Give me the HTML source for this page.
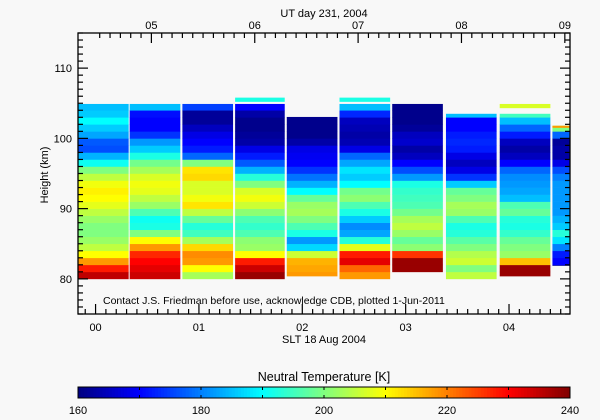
<!DOCTYPE html>
<html><head><meta charset="utf-8"><style>
body{margin:0;background:#f8f8f8;}
svg{display:block;font-family:"Liberation Sans",sans-serif;}
</style></head><body>
<svg id="chart" width="600" height="420" viewBox="0 0 600 420" xmlns="http://www.w3.org/2000/svg">
<rect x="0" y="0" width="600" height="420" fill="#f8f8f8"/>
<g id="cols"></g>
<g id="axes"></g>
<text x="324" y="17" font-size="11" text-anchor="middle">UT day 231, 2004</text>
<text x="324" y="343" font-size="11" text-anchor="middle">SLT 18 Aug 2004</text>
<text transform="translate(48,175) rotate(-90)" font-size="11" text-anchor="middle">Height (km)</text>
<text x="103" y="304" font-size="10.5">Contact J.S. Friedman before use, acknowledge CDB, plotted 1-Jun-2011</text>
<text x="324" y="381" font-size="12.5" text-anchor="middle">Neutral Temperature [K]</text>
<g id="cbar"></g>
</svg>
<script>
// ---- data ----
const colStartHour = [-0.17, 0.33, 0.84, 1.35, 1.85, 2.36, 2.87, 3.39, 3.91, 4.42];
const colEndHour   = [0.32, 0.82, 1.33, 1.83, 2.34, 2.85, 3.36, 3.88, 4.40, 4.59];
const colBottomKm = [80.0, 80.0, 80.0, 80.0, 80.4, 80.0, 81.0, 80.0, 80.4, 81.9];
const colTopKm    = [104.9, 104.9, 104.9, 104.9, 103.05, 104.9, 104.9, 103.5, 103.5, 101.8];
const prof0 = [235,228,218,210,205,202,200,200,202,205,208,210,211,209,205,200,191,184,176,177,183,186,190,186,185];
const prof1 = [234,232,230,227,218,210,200,192,191,196,202,205,208,209,207,203,199,192,186,182,174,170,170,171,185];
const prof2 = [203,210,218,219,213,203,195,193,198,205,212,209,207,207,213,212,200,178,172,170,168,165,162,162,175];
const prof3 = [238,234,228,210,202,201,196,194,196,201,206,209,207,200,193,184,177,172,168,163,162,161,161,163,170];
const prof4 = [218,217,216,206,187,182,192,196,200,203,202,198,190,184,179,174,170,169,168,163,161,161,161,161];
const prof5 = [218,222,232,228,208,193,183,181,186,192,196,201,199,190,186,188,183,178,168,164,163,164,165,173,185];
const prof6 = [238,238,226,201,198,202,205,203,199,196,195,194,192,182,176,170,165,163,166,165,162,161,161,161,161];
const prof7 = [205,200,206,204,200,197,193,192,196,202,203,200,198,186,174,168,165,168,172,173,172,170,170,185];
const prof8 = [238,238,215,202,200,198,194,192,193,198,196,185,183,182,181,178,170,165,163,165,172,178,185,195];
const prof9 = [162,170,172,180,188,193,186,184,182,182,182,182,182,180,176,168,163,163,162,178,200,218];
const profiles = [prof0,prof1,prof2,prof3,prof4,prof5,prof6,prof7,prof8,prof9];
// floating strips above columns
const stripCol = [3, 5, 8, 9];
const stripBottomKm = [105.2, 105.2, 104.3, 101.5];
const stripTopKm = [105.8, 105.8, 104.9, 101.8];
const stripTemp = [192, 192, 207, 218];
const yTicks = [80, 90, 100, 110];
const xTickLabels = ["00","01","02","03","04"];
const utTickLabels = ["05","06","07","08","09"];
const cbarTicks = [160,180,200,220,240];

// ---- scales ----
const X0=78, X1=570, Y0=33, Y1=314;
const H0=-0.17, H1=4.59, K0=75, K1=115;
const xs = h => X0 + (h-H0)/(H1-H0)*(X1-X0);
const ys = k => Y0 + (K1-k)/(K1-K0)*(Y1-Y0);
const T0=160, T1=240;
function jet(v){
  let t=Math.max(0,Math.min(1,(v-T0)/(T1-T0)));
  const c=x=>Math.round(255*Math.max(0,Math.min(1,x)));
  return `rgb(${c(1.5-Math.abs(4*t-3))},${c(1.5-Math.abs(4*t-2))},${c(1.5-Math.abs(4*t-1))})`;
}
const NS="http://www.w3.org/2000/svg";
function mk(tag,attrs,parent){const e=document.createElementNS(NS,tag);for(const k in attrs)e.setAttribute(k,attrs[k]);parent.appendChild(e);return e;}

const cols=document.getElementById('cols');
profiles.forEach((p,i)=>{
  const xa=xs(colStartHour[i]), xb=xs(colEndHour[i]);
  const base=Math.floor(colBottomKm[i]);
  p.forEach((v,j)=>{
    const lo=Math.max(base+j,colBottomKm[i]), hi=Math.min(base+j+1,colTopKm[i]);
    if(hi<=lo) return;
    const r=mk('rect',{x:xa,y:ys(hi),width:xb-xa,height:ys(lo)-ys(hi)+0.3,fill:jet(v)},cols);
    
    
  });
});
stripCol.forEach((c,i)=>{
  const xa=xs(colStartHour[c]), xb=xs(colEndHour[c]);
  const r=mk('rect',{x:xa,y:ys(stripTopKm[i]),width:xb-xa,height:ys(stripBottomKm[i])-ys(stripTopKm[i]),fill:jet(stripTemp[i])},cols);
  
  
});

// ---- axes ----
const ax=document.getElementById('axes');
mk('rect',{x:X0,y:Y0,width:X1-X0,height:Y1-Y0,fill:'none',stroke:'#000','stroke-width':1.3},ax);
for(let k=K0;k<=K1;k++){
  const major=k%10===0, L=major?10:5, y=ys(k);
  mk('line',{x1:X0,y1:y,x2:X0+L,y2:y,stroke:'#000','stroke-width':1.2},ax);
  mk('line',{x1:X1,y1:y,x2:X1-L,y2:y,stroke:'#000','stroke-width':1.2},ax);
}
yTicks.forEach(k=>{
  const t=mk('text',{x:X0-6,y:ys(k)+4,'font-size':11,'text-anchor':'end'},ax);
  t.textContent=k;
  
  
});
// bottom ticks (SLT)
for(let m=-1;m<=45;m++){
  const h=m/10; if(h<H0||h>H1) continue;
  const x=xs(h), L=m%10===0?10:5;
  mk('line',{x1:x,y1:Y1,x2:x,y2:Y1-L,stroke:'#000','stroke-width':1.2},ax);
}
xTickLabels.forEach((s,i)=>{
  const t=mk('text',{x:xs(i),y:331,'font-size':11,'text-anchor':'middle'},ax);
  t.textContent=s;
  
  
});
// top ticks (UT), offset 0.54h relative to SLT
const UTOFF=5-0.54;
for(let m=-5;m<=45;m++){
  const h=m/10+0.54; if(h<H0||h>H1+0.01) continue;
  const x=xs(h), L=m%10===0?10:5;
  mk('line',{x1:x,y1:Y0,x2:x,y2:Y0+L,stroke:'#000','stroke-width':1.2},ax);
}
utTickLabels.forEach((s,i)=>{
  const t=mk('text',{x:Math.min(xs(i+0.54),X1-2),y:29,'font-size':11,'text-anchor':'middle'},ax);
  t.textContent=s;
  
  
});

// ---- colorbar ----
const cb=document.getElementById('cbar');
const CY0=387, CY1=398;
const cx = v => X0 + (v-T0)/(T1-T0)*(X1-X0);
for(let v=T0; v<T1; v+=0.5){
  mk('rect',{x:cx(v),y:CY0,width:cx(v+0.5)-cx(v)+0.4,height:CY1-CY0,fill:jet(v+0.25)},cb);
}
mk('rect',{x:X0,y:CY0,width:X1-X0,height:CY1-CY0,fill:'none',stroke:'#000','stroke-width':1},cb);
for(let v=T0+10; v<T1; v+=10){
  mk('line',{x1:cx(v),y1:CY0,x2:cx(v),y2:CY0+3,stroke:'#000'},cb);
  mk('line',{x1:cx(v),y1:CY1,x2:cx(v),y2:CY1-3,stroke:'#000'},cb);
}
cbarTicks.forEach(v=>{
  const t=mk('text',{x:cx(v),y:414,'font-size':11,'text-anchor':'middle'},cb);
  t.textContent=v;
  
  
});
</script>
</body></html>
